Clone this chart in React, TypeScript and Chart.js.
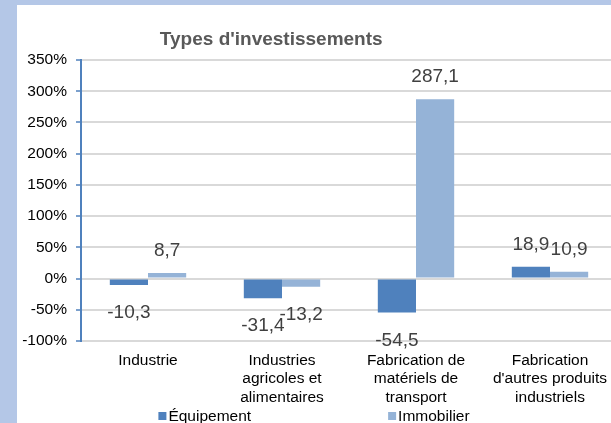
import React, { useEffect, useRef } from 'react';
import { Chart, registerables } from 'chart.js';

Chart.register(...registerables);

const chartTitle = "Types d'investissements";
const categories: string[][] = [
  ['Industrie'],
  ['Industries', 'agricoles et', 'alimentaires'],
  ['Fabrication de', 'matériels de', 'transport'],
  ['Fabrication', "d'autres produits", 'industriels'],
];
const seriesNames = ['Équipement', 'Immobilier'];
const equipement = [-10.3, -31.4, -54.5, 18.9];
const immobilier = [8.7, -13.2, 287.1, 10.9];
const seriesColors = ['#4f81bd', '#95b3d7'];
const yMin = -100;
const yMax = 350;
const yStep = 50;

const FONT = '"Liberation Sans", Arial, sans-serif';
const VISIBLE_W = 594;

const dataLabelPlugin = {
  id: 'dataLabels',
  afterDatasetsDraw(chart: any) {
    const ctx = chart.ctx;
    ctx.save();
    ctx.font = `19px ${FONT}`;
    ctx.fillStyle = '#404040';
    ctx.textAlign = 'center';
    ctx.textBaseline = 'alphabetic';
    chart.data.datasets.forEach((ds: any, i: number) => {
      const meta = chart.getDatasetMeta(i);
      meta.data.forEach((el: any, j: number) => {
        const v = ds.data[j] as number;
        const txt = v.toFixed(1).replace('.', ',');
        const y = v >= 0 ? el.y - 17 : el.y + 33;
        ctx.fillText(txt, el.x, y);
      });
    });
    ctx.restore();
  },
};

const titleLegendPlugin = {
  id: 'titleLegend',
  afterDraw(chart: any) {
    const ctx = chart.ctx;
    const w = VISIBLE_W;
    const h = chart.height;
    ctx.save();
    // title
    ctx.font = `bold 19px ${FONT}`;
    ctx.fillStyle = '#595959';
    ctx.textAlign = 'center';
    ctx.textBaseline = 'alphabetic';
    ctx.fillText(chartTitle, w * 0.428, 40);
    // legend
    ctx.font = `15.5px ${FONT}`;
    ctx.textAlign = 'left';
    const box = 8;
    const gapText = 2;
    const gapItems = 137;
    const items = chart.data.datasets.map((ds: any) => ({
      text: ds.label as string,
      color: ds.backgroundColor as string,
      width: box + gapText + ctx.measureText(ds.label).width,
    }));
    const total = items.reduce((s: number, it: any) => s + it.width, 0) + gapItems * (items.length - 1);
    let x = w / 2 - total / 2;
    const baseline = h - 2;
    items.forEach((it: any) => {
      ctx.fillStyle = it.color;
      ctx.fillRect(x, baseline - 9, box, box);
      ctx.fillStyle = '#000000';
      ctx.fillText(it.text, x + box + gapText, baseline);
      x += it.width + gapItems;
    });
    ctx.restore();
  },
};

export default function App() {
  const canvasRef = useRef<HTMLCanvasElement | null>(null);

  useEffect(() => {
    const canvas = canvasRef.current;
    if (!canvas) return;
    const chart = new Chart(canvas, {
      type: 'bar',
      data: {
        labels: categories,
        datasets: [
          { label: seriesNames[0], data: equipement, backgroundColor: seriesColors[0], borderWidth: 0 },
          { label: seriesNames[1], data: immobilier, backgroundColor: seriesColors[1], borderWidth: 0 },
        ],
      },
      options: {
        responsive: false,
        animation: false,
        devicePixelRatio: 1,
        layout: { padding: { left: 0, right: 0, top: 55, bottom: 8 } },
        datasets: { bar: { categoryPercentage: 0.57, barPercentage: 1.0 } },
        plugins: {
          legend: { display: false },
          title: { display: false },
          tooltip: { enabled: false },
        },
        scales: {
          x: {
            grid: { display: false, drawTicks: false },
            border: { display: false },
            ticks: {
              color: '#000000',
              font: { family: FONT, size: 15.5, lineHeight: 1.2 },
              padding: 10,
              maxRotation: 0,
              autoSkip: false,
            },
            afterFit: (s: any) => { s.height = 74; s.paddingRight = 0; s.paddingLeft = 0; },
          },
          y: {
            min: yMin,
            max: yMax,
            grid: { color: '#d9d9d9', lineWidth: 2, tickColor: '#4f81bd', tickLength: 5, tickWidth: 1.5 },
            border: { display: true, color: '#4f81bd', width: 2 },
            ticks: {
              stepSize: yStep,
              color: '#000000',
              font: { family: FONT, size: 15.5 },
              padding: 9,
              callback: (v: any) => `${v}%`,
            },
            afterFit: (s: any) => { s.width = 64; },
          },
        },
      },
      plugins: [dataLabelPlugin, titleLegendPlugin],
    } as any);
    return () => chart.destroy();
  }, []);

  return (
    <div style={{ position: 'fixed', left: 0, top: 0, width: 611, height: 423, background: '#b4c7e7', overflow: 'hidden' }}>
      <div style={{ position: 'absolute', left: 17, top: 5, width: VISIBLE_W, height: 418, background: '#ffffff', overflow: 'hidden' }}>
        <canvas ref={canvasRef} width={600} height={418} style={{ display: 'block' }} />
      </div>
    </div>
  );
}
